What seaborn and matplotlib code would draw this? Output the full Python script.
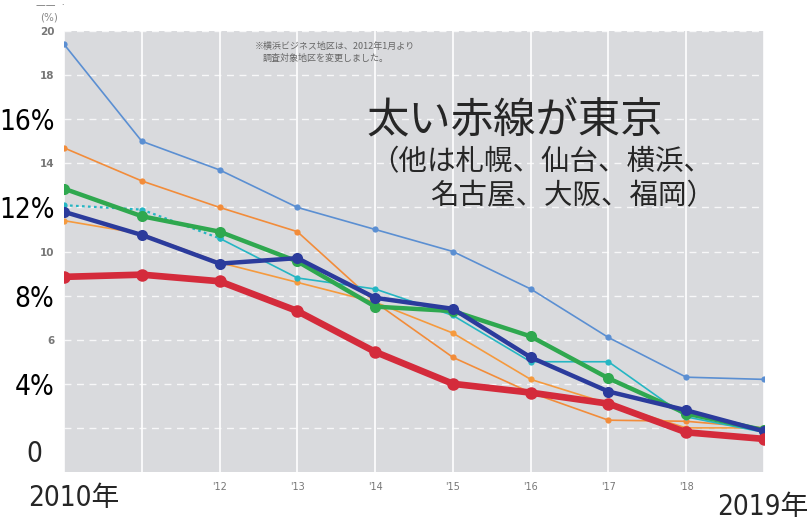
import numpy as np
import pandas as pd
import seaborn as sns
import matplotlib.pyplot as plt

# vacancy rate (%) of office buildings, 2010-2019
years = list(range(2010, 2020))
sapporo = [19.4, 15.0, 13.7, 12.0, 11.0, 10.0, 8.3, 6.1, 4.3, 4.2]
sendai = [14.7, 13.2, 12.0, 10.9, 7.7, 5.2, 3.6, 2.35, 2.3, 2.0]
nagoya = [11.4, 10.8, 9.5, 8.6, 7.7, 6.3, 4.2, 3.1, 2.0, 2.0]
yokohama = [12.1, 11.9, 10.6, 8.8, 8.3, 7.1, 5.0, 5.0, 2.5, 1.8]
osaka = [12.85, 11.6, 10.9, 9.55, 7.5, 7.3, 6.15, 4.25, 2.65, 1.9]
fukuoka = [11.8, 10.75, 9.45, 9.7, 7.9, 7.4, 5.2, 3.65, 2.8, 1.85]
tokyo = [8.85, 8.95, 8.65, 7.3, 5.45, 4.0, 3.6, 3.1, 1.8, 1.5]

xtick_labels = ["", "", "'12", "'13", "'14", "'15", "'16", "'17", "'18", ""]
ytick_vals = [2, 4, 6, 8, 10, 12, 14, 16, 18, 20]
ytick_labels = ["", "4%", "6", "8%", "10", "12%", "14", "16%", "18", "20"]

df = pd.DataFrame({"year": years, "sapporo": sapporo, "sendai": sendai,
                   "nagoya": nagoya, "yokohama": yokohama, "osaka": osaka,
                   "fukuoka": fukuoka, "tokyo": tokyo})

sns.set_style("white")
plt.rcParams['font.family'] = ['Noto Sans CJK JP', 'DejaVu Sans']
NARROW = ["DejaVu Sans", "Noto Sans CJK JP"]

fig = plt.figure(figsize=(8.12, 5.21), dpi=100)
W, H = 812, 521
ax = fig.add_axes([64 / W, 1 - 472 / H, 700 / W, 441 / H])
ax.set_facecolor("#d9dadd")

# (column, colour, line width, marker size)
styles = [
    ("sapporo", "#5b8fd2", 1.2, 4.5),
    ("sendai", "#f28c3a", 1.2, 4.5),
    ("nagoya", "#f59a3e", 1.2, 4.5),
    ("yokohama", "#25b6c3", 1.2, 4.5),
    ("osaka", "#2fa84f", 3.2, 8),
    ("fukuoka", "#2b3b9c", 3.2, 8),
    ("tokyo", "#d42b3b", 4.8, 9),
]

for col, color, lw, ms in styles:
    if col == "yokohama":
        # survey area changed in Jan 2012 -> dotted before
        sns.lineplot(data=df.iloc[:3], x="year", y=col, ax=ax, color=color,
                     lw=lw + 0.4, marker="o", markersize=ms, markeredgewidth=0,
                     linestyle=(0, (1.2, 1.5)))
        sns.lineplot(data=df.iloc[2:], x="year", y=col, ax=ax, color=color,
                     lw=lw, marker="o", markersize=ms, markeredgewidth=0)
    else:
        sns.lineplot(data=df, x="year", y=col, ax=ax, color=color, lw=lw,
                     marker="o", markersize=ms, markeredgewidth=0)

ax.set_xlim(2010, 2019)
ax.set_ylim(0, 20)
ax.set_xticks(years)
ax.set_xticklabels(xtick_labels, fontsize=7, color="#777777", family="DejaVu Sans")
ax.set_yticks(ytick_vals)
ax.set_yticklabels(ytick_labels)
for lab in ax.get_yticklabels():
    if "%" in lab.get_text():
        lab.set_fontsize(20)
        lab.set_color("black")
        lab.set_family(NARROW)
        lab.set_fontstretch("condensed")
    else:
        lab.set_fontsize(7.5)
        lab.set_color("#777777")
        lab.set_fontweight("bold")
        lab.set_family("DejaVu Sans")
ax.tick_params(axis="both", length=0, pad=7)
ax.set_xlabel("")
ax.set_ylabel("")
for s in ax.spines.values():
    s.set_visible(False)

ax.grid(axis="x", color="white", lw=1.2)
ax.grid(axis="y", color="white", lw=1.0, linestyle=(0, (5, 4)), alpha=0.8)
ax.set_axisbelow(True)

# texts
fig.text(40 / W, 1 - 17 / H, "(%)", fontsize=7.5, color="#888888",
         ha="left", va="center", family="DejaVu Sans")
fig.text(36 / W, 1 - 5 / H, "——  ·", fontsize=7, color="#777777",
         ha="left", va="center", family="DejaVu Sans")
fig.text(34 / W, 1 - 454 / H, "0", fontsize=20, ha="center", va="center",
         family=NARROW, fontstretch="condensed")
fig.text(28 / W, 1 - 498 / H, "2010年", fontsize=20, ha="left", va="center",
         family=NARROW, fontstretch="condensed")
fig.text(808 / W, 1 - 507 / H, "2019年", fontsize=20, ha="right", va="center",
         family=NARROW, fontstretch="condensed")

fig.text(255 / W, 1 - 46 / H, "※横浜ビジネス地区は、2012年1月より", fontsize=6.5,
         color="#666666", ha="left", va="center")
fig.text(263 / W, 1 - 58 / H, "調査対象地区を変更しました。", fontsize=6.5,
         color="#666666", ha="left", va="center")

fig.text(366 / W, 1 - 120 / H, "太い赤線が東京", fontsize=30.5, ha="left", va="center")
fig.text(712 / W, 1 - 162 / H, "（他は札幌、仙台、横浜、", fontsize=20.5,
         ha="right", va="center")
fig.text(715 / W, 1 - 196 / H, "名古屋、大阪、福岡）", fontsize=20.5,
         ha="right", va="center")

fig.savefig("out.png", dpi=100)
